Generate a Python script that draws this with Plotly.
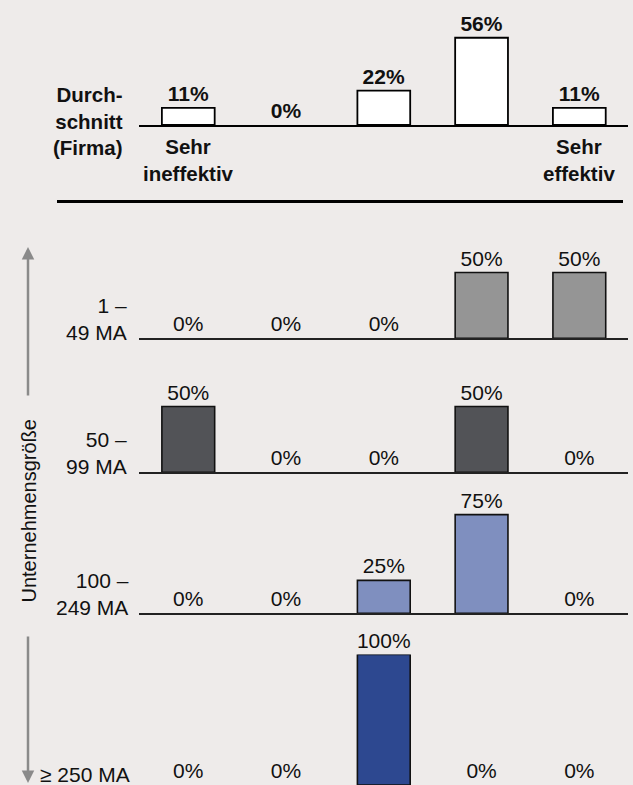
import plotly.graph_objects as go

# ---------------- data ----------------
categories = ["1", "2", "3", "4", "5"]
avg_values = [11, 0, 22, 56, 11]            # Durchschnitt (Firma)
size_groups = ["1 –<br>49 MA", "50 –<br>99 MA", "100 –<br>249 MA", "≥ 250 MA"]
vals_1_49 = [0, 0, 0, 50, 50]
vals_50_99 = [50, 0, 0, 50, 0]
vals_100_249 = [0, 0, 25, 75, 0]
vals_250 = [0, 0, 100, 0, 0]
group_values = [vals_1_49, vals_50_99, vals_100_249, vals_250]
group_colors = ["#959595", "#525357", "#7F8FBF", "#2D4890"]
scale_low = "Sehr<br>ineffektiv"
scale_high = "Sehr<br>effektiv"
avg_label = "Durch-<br>schnitt<br>(Firma)"
axis_title = "Unternehmensgröße"

# ---------------- layout geometry ----------------
W, H = 633, 785
FONT = "Liberation Sans, Arial, sans-serif"
FS = 21

def py(px):
    return 1 - px / H

x_dom = [139.4 / W, 628.2 / W]
top_dom = [py(125), py(31.5)]
grp_dom = [
    [py(338.3), py(338.3 - 131.5)],
    [py(472.3), py(472.3 - 131.5)],
    [py(613.3), py(613.3 - 131.5)],
    [0.0, py(654.5)],
]

def outline(vals, w):
    return [w if v > 0 else 0 for v in vals]

fig = go.Figure()

fig.add_trace(go.Bar(
    x=categories, y=avg_values, xaxis="x", yaxis="y",
    marker=dict(color="white", line=dict(color="black", width=outline(avg_values, 1.8))),
    width=0.54, texttemplate="%{y}%", textposition="outside",
    textfont=dict(family=FONT, size=FS, color="#111", weight="bold"),
    cliponaxis=False, constraintext="none", hoverinfo="skip",
))

layout_axes = {}
layout_axes["xaxis"] = dict(domain=x_dom, anchor="y", range=[-0.5, 4.5], showticklabels=False,
                            ticks="", showgrid=False, zeroline=False, showline=True,
                            linecolor="black", linewidth=2)
layout_axes["yaxis"] = dict(domain=top_dom, anchor="x", range=[0, 60], visible=False)

for i, (vals, col) in enumerate(zip(group_values, group_colors)):
    n = i + 2
    fig.add_trace(go.Bar(
        x=categories, y=vals, xaxis=f"x{n}", yaxis=f"y{n}",
        marker=dict(color=col, line=dict(color="#111", width=outline(vals, 1.6))),
        width=0.54, texttemplate="%{y}%", textposition="outside",
        textfont=dict(family=FONT, size=FS, color="#111"),
        cliponaxis=False, constraintext="none", hoverinfo="skip",
    ))
    layout_axes[f"xaxis{n}"] = dict(domain=x_dom, anchor=f"y{n}", range=[-0.5, 4.5],
                                    showticklabels=False, ticks="", showgrid=False,
                                    zeroline=False, showline=(n != 5),
                                    linecolor="#222", linewidth=1.6)
    layout_axes[f"yaxis{n}"] = dict(domain=grp_dom[i], anchor=f"x{n}", range=[0, 100],
                                    visible=False)

annotations = []
annotations.append(dict(text=f"<b>{avg_label}</b>", xref="paper", yref="y", x=125 / W, y=0,
                        xanchor="right", yanchor="middle", yshift=4, align="right",
                        showarrow=False, font=dict(family=FONT, size=FS - 0.5, color="#111")))
annotations.append(dict(text=f"<b>{scale_low}</b>", xref="x", yref="y", x=0, y=0,
                        xanchor="center", yanchor="top", yshift=-8, align="center",
                        showarrow=False, font=dict(family=FONT, size=FS - 0.5, color="#111")))
annotations.append(dict(text=f"<b>{scale_high}</b>", xref="x", yref="y", x=4, y=0,
                        xanchor="center", yanchor="top", yshift=-8, align="center",
                        showarrow=False, font=dict(family=FONT, size=FS - 0.5, color="#111")))
label_shift = [-8, -8, -8, -3]
label_right = [129, 129, 131, 132]
for i, lab in enumerate(size_groups):
    n = i + 2
    annotations.append(dict(text=lab, xref="paper", yref=f"y{n}", x=label_right[i] / W, y=0,
                            xanchor="right", yanchor="bottom", yshift=label_shift[i],
                            align="right", showarrow=False,
                            font=dict(family=FONT, size=FS, color="#111")))
annotations.append(dict(text=axis_title, xref="paper", yref="paper", x=28.5 / W, y=py(511),
                        textangle=-90, showarrow=False, xanchor="center", yanchor="middle",
                        font=dict(family=FONT, size=20, color="#111")))
annotations.append(dict(text="", xref="paper", yref="paper", x=28 / W, y=py(247),
                        ax=0, ay=150, axref="pixel", ayref="pixel", showarrow=True,
                        arrowhead=2, arrowsize=1, arrowwidth=2.5, arrowcolor="#8A8A8A"))
annotations.append(dict(text="", xref="paper", yref="paper", x=28 / W, y=py(783),
                        ax=0, ay=-148, axref="pixel", ayref="pixel", showarrow=True,
                        arrowhead=2, arrowsize=1, arrowwidth=2.5, arrowcolor="#8A8A8A"))

shapes = [dict(type="line", xref="paper", yref="paper", x0=57 / W, x1=623 / W,
               y0=py(201.5), y1=py(201.5), line=dict(color="black", width=3))]

fig.update_layout(
    width=W, height=H, margin=dict(l=0, r=0, t=0, b=0),
    paper_bgcolor="#EEEBEA", plot_bgcolor="rgba(0,0,0,0)",
    showlegend=False, bargap=0, font=dict(family=FONT, size=FS, color="#111"),
    annotations=annotations, shapes=shapes, **layout_axes,
)

fig.write_html("out.html", config={"displayModeBar": False, "staticPlot": True},
               post_script="document.body.style.margin='0';document.body.style.overflow='hidden';")
